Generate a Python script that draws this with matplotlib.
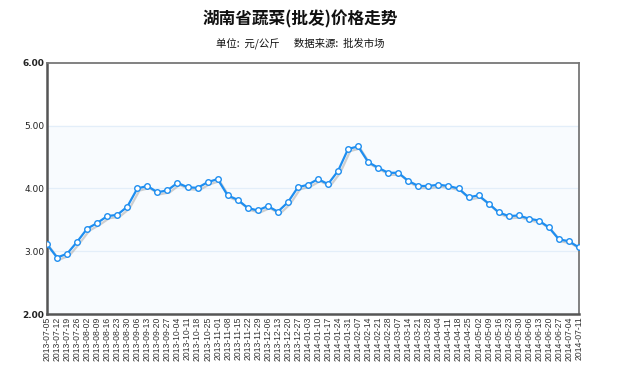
import matplotlib.pyplot as plt
import matplotlib.patheffects as pe

plt.rcParams['font.family'] = ['Noto Sans CJK SC', 'DejaVu Sans']

# weekly dates (tick labels)
dates = [
    '2013-07-05', '2013-07-12', '2013-07-19', '2013-07-26', '2013-08-02', '2013-08-09',
    '2013-08-16', '2013-08-23', '2013-08-30', '2013-09-06', '2013-09-13', '2013-09-20',
    '2013-09-27', '2013-10-04', '2013-10-11', '2013-10-18', '2013-10-25', '2013-11-01',
    '2013-11-08', '2013-11-15', '2013-11-22', '2013-11-29', '2013-12-06', '2013-12-13',
    '2013-12-20', '2013-12-27', '2014-01-03', '2014-01-10', '2014-01-17', '2014-01-24',
    '2014-01-31', '2014-02-07', '2014-02-14', '2014-02-21', '2014-02-28', '2014-03-07',
    '2014-03-14', '2014-03-21', '2014-03-28', '2014-04-04', '2014-04-11', '2014-04-18',
    '2014-04-25', '2014-05-02', '2014-05-09', '2014-05-16', '2014-05-23', '2014-05-30',
    '2014-06-06', '2014-06-13', '2014-06-20', '2014-06-27', '2014-07-04', '2014-07-11',
]

# price, yuan / kg
prices = [
    3.11, 2.90, 2.96, 3.15, 3.36, 3.45, 3.56, 3.58, 3.71, 4.00, 4.04, 3.94,
    3.97, 4.09, 4.02, 4.01, 4.10, 4.15, 3.89, 3.82, 3.69, 3.65, 3.72, 3.63,
    3.78, 4.02, 4.06, 4.15, 4.07, 4.28, 4.63, 4.67, 4.42, 4.33, 4.25, 4.25,
    4.12, 4.04, 4.04, 4.06, 4.04, 4.00, 3.86, 3.89, 3.76, 3.62, 3.56, 3.57,
    3.52, 3.49, 3.38, 3.19, 3.16, 3.06,
]

y_ticks = [2, 3, 4, 5, 6]

fig = plt.figure(figsize=(6.2, 3.66), dpi=100)
ax = fig.add_axes([0.0758, 0.142, 0.858, 0.686])

x = list(range(len(prices)))

# background band and grid
ax.axhspan(2, 5, color='#f8fbfe', zorder=0)
for yv in y_ticks[1:-1]:
    ax.axhline(yv, color='#e3eef9', lw=0.9, zorder=1)

# line with soft shadow
ax.plot(x, prices, color='#1e8ef0', lw=1.6, zorder=3,
        path_effects=[pe.SimpleLineShadow(offset=(1.5, -1.5), shadow_color='#999999', alpha=0.45),
                      pe.Normal()])
ax.plot(x, prices, ls='none', marker='o', ms=4.0, mfc='white', mec='#1e8ef0', mew=1.0, zorder=4)

ax.set_xlim(0, len(prices) - 1)
ax.set_ylim(2, 6)

ax.set_yticks(y_ticks)
ax.set_yticklabels([f'{v:.2f}' for v in y_ticks], fontsize=6.5, family='DejaVu Sans', color='#222222')
for lbl in ax.get_yticklabels():
    if lbl.get_text() in ('2.00', '6.00'):
        lbl.set_fontweight('bold')
ax.set_xticks(x)
ax.set_xticklabels(dates, rotation=90, fontsize=6.2, family='Liberation Sans', color='#333333')
ax.tick_params(length=0, pad=2)

for side in ['top', 'right']:
    ax.spines[side].set_color('#777777')
    ax.spines[side].set_linewidth(1.3)
for side in ['left', 'bottom']:
    ax.spines[side].set_color('#555555')
    ax.spines[side].set_linewidth(1.8)

fig.text(0.485, 0.948, '湖南省蔬菜(批发)价格走势', ha='center', va='center',
         fontsize=12, fontweight='bold', color='#111111')
fig.text(0.485, 0.882, '单位:  元/公斤      数据来源:  批发市场', ha='center', va='center',
         fontsize=7.5, color='#111111')

fig.savefig('out.png', dpi=100)
